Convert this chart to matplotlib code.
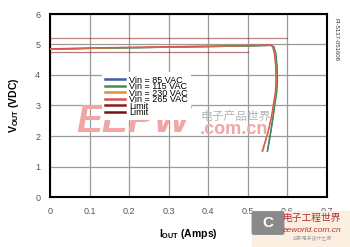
import matplotlib
matplotlib.use("Agg")
import matplotlib.pyplot as plt
from matplotlib.patches import Rectangle, FancyBboxPatch

plt.rcParams['font.family'] = ['Liberation Sans', 'Noto Sans CJK SC', 'DejaVu Sans']
plt.rcParams['mathtext.fontset'] = 'custom'
plt.rcParams['mathtext.rm'] = 'Liberation Sans'
plt.rcParams['mathtext.bf'] = 'Liberation Sans:bold'

# output voltage vs load current, one curve per input voltage
series_names = ['Vin = 85 VAC', 'Vin = 115 VAC', 'Vin = 230 VAC', 'Vin = 265 VAC']
series_colors = ['#3f5f9f', '#3f8f4f', '#e0903a', '#d9534f']
iout_85 = [0, 0.1, 0.2, 0.3, 0.4, 0.5, 0.558, 0.565, 0.57, 0.573, 0.574, 0.572, 0.567, 0.563, 0.557, 0.549]
vout_85 = [4.84, 4.87, 4.89, 4.91, 4.93, 4.95, 4.97, 4.93, 4.7, 4.3, 3.8, 3.4, 3.0, 2.6, 2.1, 1.5]
iout_115 = [0, 0.1, 0.2, 0.3, 0.4, 0.5, 0.559, 0.566, 0.571, 0.574, 0.575, 0.573, 0.568, 0.564, 0.558, 0.55]
vout_115 = [4.84, 4.87, 4.89, 4.91, 4.93, 4.95, 4.97, 4.93, 4.7, 4.3, 3.8, 3.4, 3.0, 2.6, 2.1, 1.5]
iout_230 = [0, 0.1, 0.2, 0.3, 0.4, 0.5, 0.556, 0.563, 0.568, 0.571, 0.572, 0.57, 0.565, 0.56, 0.551, 0.538]
vout_230 = [4.85, 4.88, 4.9, 4.92, 4.94, 4.96, 4.98, 4.94, 4.7, 4.3, 3.8, 3.4, 3.0, 2.6, 2.1, 1.5]
iout_265 = [0, 0.1, 0.2, 0.3, 0.4, 0.5, 0.555, 0.562, 0.567, 0.57, 0.571, 0.569, 0.564, 0.559, 0.55, 0.536]
vout_265 = [4.86, 4.89, 4.91, 4.93, 4.95, 4.97, 4.99, 4.95, 4.7, 4.3, 3.8, 3.4, 3.0, 2.6, 2.1, 1.5]

# limit lines
limit_i = [0, 0.6]
limit_v = [5.22, 5.22]
limit2_i = [0, 0.5]
limit2_v = [4.76, 4.76]

xticks = [0, 0.1, 0.2, 0.3, 0.4, 0.5, 0.6, 0.7]
xticklabels = ['0', '0.1', '0.2', '0.3', '0.4', '0.5', '0.6', '0.7']
yticks = [0, 1, 2, 3, 4, 5, 6]

fig = plt.figure(figsize=(3.5, 2.47), dpi=100)
ax = fig.add_axes([50 / 350, 50 / 247, 277 / 350, 183 / 247])

# watermark behind the data
ax.text(0.21, 2.45, 'EEPW', color='#f2a5a5', fontsize=28, fontweight='bold',
        fontstyle='italic', va='center', ha='center', zorder=1)
ax.text(0.47, 2.62, '电子产品世界', color='#b5b5b5', fontsize=8.5, fontstyle='italic',
        va='center', ha='center', zorder=1)
ax.text(0.466, 2.2, '.com.cn', color='#f2a5a5', fontsize=13, fontweight='bold',
        va='center', ha='center', zorder=1)

curves = [(iout_85, vout_85), (iout_115, vout_115), (iout_230, vout_230), (iout_265, vout_265)]
for (xs, ys), name, col in zip(curves, series_names, series_colors):
    ax.plot(xs, ys, color=col, lw=0.9, label=name, zorder=3)
ax.plot(limit_i, limit_v, color='#8b1c1c', lw=0.9, alpha=0.55, label='Limit', zorder=3)
ax.plot(limit2_i, limit2_v, color='#7a1010', lw=0.9, alpha=0.55, label='Limit', zorder=3)

ax.set_xlim(0, 0.7)
ax.set_ylim(0, 6)
ax.set_xticks(xticks)
ax.set_xticklabels(xticklabels)
ax.set_yticks(yticks)
ax.grid(True, color='#9a9a9a', lw=0.9)
ax.set_axisbelow(True)
ax.tick_params(length=0, labelsize=6.5, labelcolor='#555555', pad=7)
for s in ax.spines.values():
    s.set_linewidth(1.5)
    s.set_color('black')

leg = ax.legend(loc='upper left', bbox_to_anchor=(0.17, 0.705), fontsize=6.5,
                frameon=True, fancybox=False, edgecolor='none', framealpha=1,
                handlelength=2.2, handletextpad=0.5, labelspacing=-0.28,
                borderpad=0.35)
for h in leg.get_lines():
    h.set_linewidth(1.8)
    h.set_alpha(1)
leg.set_zorder(4)

ax.set_ylabel(r'$\mathbf{V_{OUT}}$ (VDC)', fontsize=7.5, fontweight='bold', labelpad=10)
ax.set_xlabel(r'$\mathbf{I_{OUT}}$ (Amps)', fontsize=7.5, fontweight='bold', labelpad=8)

fig.text(336 / 350, 1 - 40 / 247, 'PI-5137-051608', rotation=270, fontsize=4.3,
         color='#333333', ha='center', va='center')

# eeworld logo, bottom right
fig.patches.append(Rectangle((252 / 350, 0), 98 / 350, 36 / 247, transform=fig.transFigure,
                             color='#fbeede', alpha=0.9, zorder=0))
fig.patches.append(FancyBboxPatch((254 / 350, 14 / 247), 28 / 350, 20 / 247,
                                  boxstyle='round,pad=0.005', transform=fig.transFigure,
                                  color='#8a8a8a', zorder=1))
fig.text(268 / 350, 24 / 247, 'C', color='white', fontsize=11, fontweight='bold',
         ha='center', va='center')
fig.text(312 / 350, 29 / 247, '电子工程世界', color='#b03030', fontsize=7,
         ha='center', va='center')
fig.text(312 / 350, 17 / 247, 'eeworld.com.cn', color='#c03030', fontsize=6,
         fontstyle='italic', ha='center', va='center')
fig.text(312 / 350, 8 / 247, '创新电子设计之源', color='#999999', fontsize=3.5,
         ha='center', va='center')

fig.savefig('out.png', dpi=100)
